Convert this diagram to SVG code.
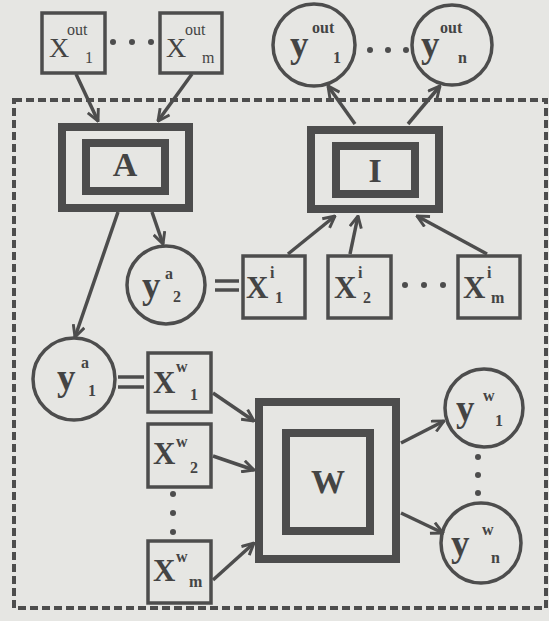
<svg xmlns="http://www.w3.org/2000/svg" width="549" height="621" viewBox="0 0 549 621">
<defs>
<style>
.bg{fill:#e6e6e3}
.box{fill:none;stroke:#4d4d4d;stroke-width:3.5}
.thick{fill:none;stroke:#4d4d4d;stroke-width:8}
.circ{fill:none;stroke:#4d4d4d;stroke-width:3.5}
.edge{fill:none;stroke:#4d4d4d;stroke-width:3.5}
.dot{fill:#4d4d4d}
.eq{stroke:#4d4d4d;stroke-width:3.5}
.big{font-family:"Liberation Serif","Times New Roman",serif;font-weight:bold;font-size:31px;fill:#444}
.ybig{font-family:"Liberation Serif","Times New Roman",serif;font-weight:bold;font-size:37px;fill:#444}
.bigr{font-family:"Liberation Serif","Times New Roman",serif;font-size:28px;fill:#444}
.sup{font-family:"Liberation Serif","Times New Roman",serif;font-weight:bold;font-size:16px;fill:#444}
.supr{font-family:"Liberation Serif","Times New Roman",serif;font-size:16px;fill:#444}
.lbl{font-family:"Liberation Serif","Times New Roman",serif;font-weight:bold;font-size:34px;fill:#444;text-anchor:middle}
</style>
<marker id="ah" viewBox="0 0 12 12" refX="11" refY="6" markerWidth="14" markerHeight="14" markerUnits="userSpaceOnUse" orient="auto">
<path d="M1,1 L11,6 L1,11" fill="none" stroke="#4d4d4d" stroke-width="2.5"/>
</marker>
</defs>
<rect class="bg" x="0" y="0" width="549" height="621"/>
<rect x="14" y="100" width="532" height="508" fill="none" stroke="#4d4d4d" stroke-width="4" stroke-dasharray="8 4"/>

<g id="connectors">
<line class="edge" x1="76" y1="74" x2="98" y2="121" marker-end="url(#ah)"/>
<line class="edge" x1="192" y1="74" x2="158" y2="121" marker-end="url(#ah)"/>
<line class="edge" x1="355" y1="124" x2="328" y2="86" marker-end="url(#ah)"/>
<line class="edge" x1="408" y1="124" x2="440" y2="86" marker-end="url(#ah)"/>
<line class="edge" x1="152" y1="212" x2="163" y2="244" marker-end="url(#ah)"/>
<line class="edge" x1="118" y1="212" x2="75" y2="337" marker-end="url(#ah)"/>
<line class="edge" x1="288" y1="254" x2="335" y2="216" marker-end="url(#ah)"/>
<line class="edge" x1="350" y1="254" x2="358" y2="216" marker-end="url(#ah)"/>
<line class="edge" x1="487" y1="254" x2="417" y2="216" marker-end="url(#ah)"/>
<line class="edge" x1="213" y1="393" x2="254" y2="421" marker-end="url(#ah)"/>
<line class="edge" x1="213" y1="456" x2="254" y2="470" marker-end="url(#ah)"/>
<line class="edge" x1="213" y1="580" x2="254" y2="543" marker-end="url(#ah)"/>
<line class="edge" x1="401" y1="443" x2="444" y2="421" marker-end="url(#ah)"/>
<line class="edge" x1="401" y1="513" x2="443" y2="533" marker-end="url(#ah)"/>
</g>

<g id="xout1">
<rect class="box" x="42" y="13" width="63" height="60"/>
<text class="bigr" x="49" y="57">X</text><text class="supr" x="67" y="35">out</text><text class="supr" x="85" y="63">1</text>
</g>
<g id="xoutm">
<rect class="box" x="160" y="13" width="62" height="60"/>
<text class="bigr" x="166" y="57">X</text><text class="supr" x="185" y="35">out</text><text class="supr" x="202" y="63">m</text>
</g>
<g id="dots-xout">
<circle class="dot" cx="113" cy="42" r="3"/><circle class="dot" cx="132" cy="42" r="3"/><circle class="dot" cx="151" cy="42" r="3"/>
</g>

<g id="yout1">
<circle class="circ" cx="314" cy="45" r="41"/>
<text class="ybig" x="290" y="57">y</text><text class="sup" x="312" y="33">out</text><text class="sup" x="333" y="63">1</text>
</g>
<g id="youtn">
<circle class="circ" cx="452" cy="45" r="40"/>
<text class="ybig" x="421" y="57">y</text><text class="sup" x="440" y="33">out</text><text class="sup" x="458" y="63">n</text>
</g>
<g id="dots-yout">
<circle class="dot" cx="370" cy="50" r="3"/><circle class="dot" cx="388" cy="50" r="3"/><circle class="dot" cx="406" cy="50" r="3"/>
</g>

<g id="A">
<rect class="thick" x="62" y="127" width="127" height="81"/>
<rect class="thick" x="86" y="143" width="79" height="48"/>
<text class="lbl" x="125" y="176">A</text>
</g>
<g id="I">
<rect class="thick" x="311" y="130" width="128" height="79"/>
<rect class="thick" x="336" y="146" width="79" height="48"/>
<text class="lbl" x="375" y="182">I</text>
</g>
<g id="W">
<rect class="thick" x="259" y="402" width="137" height="157"/>
<rect class="thick" x="286" y="433" width="84" height="98"/>
<text class="lbl" x="328" y="493">W</text>
</g>

<g id="ya2">
<circle class="circ" cx="166" cy="285" r="39"/>
<text class="ybig" x="142" y="298">y</text><text class="sup" x="165" y="279">a</text><text class="sup" x="173" y="302">2</text>
</g>
<g id="eq1"><line class="eq" x1="215" y1="281" x2="239" y2="281"/><line class="eq" x1="215" y1="290" x2="239" y2="290"/></g>
<g id="xi1">
<rect class="box" x="243" y="256" width="62" height="62"/>
<text class="big" x="246" y="298">X</text><text class="sup" x="270" y="278">i</text><text class="sup" x="275" y="303">1</text>
</g>
<g id="xi2">
<rect class="box" x="328" y="256" width="63" height="62"/>
<text class="big" x="334" y="298">X</text><text class="sup" x="358" y="278">i</text><text class="sup" x="363" y="303">2</text>
</g>
<g id="dots-xi">
<circle class="dot" cx="405" cy="285" r="3"/><circle class="dot" cx="424" cy="285" r="3"/><circle class="dot" cx="443" cy="285" r="3"/>
</g>
<g id="xim">
<rect class="box" x="458" y="256" width="62" height="62"/>
<text class="big" x="463" y="298">X</text><text class="sup" x="487" y="278">i</text><text class="sup" x="491" y="303">m</text>
</g>

<g id="ya1">
<circle class="circ" cx="74" cy="379" r="41"/>
<text class="ybig" x="57" y="390">y</text><text class="sup" x="81" y="368">a</text><text class="sup" x="88" y="396">1</text>
</g>
<g id="eq2"><line class="eq" x1="118" y1="377" x2="144" y2="377"/><line class="eq" x1="118" y1="387" x2="144" y2="387"/></g>
<g id="xw1">
<rect class="box" x="148" y="353" width="63" height="59"/>
<text class="big" x="153" y="393">X</text><text class="sup" x="176" y="372">w</text><text class="sup" x="190" y="400">1</text>
</g>
<g id="xw2">
<rect class="box" x="148" y="424" width="63" height="63"/>
<text class="big" x="153" y="464">X</text><text class="sup" x="176" y="447">w</text><text class="sup" x="190" y="473">2</text>
</g>
<g id="dots-xw">
<circle class="dot" cx="173" cy="494" r="3"/><circle class="dot" cx="173" cy="513" r="3"/><circle class="dot" cx="173" cy="532" r="3"/>
</g>
<g id="xwm">
<rect class="box" x="148" y="541" width="63" height="62"/>
<text class="big" x="153" y="581">X</text><text class="sup" x="176" y="562">w</text><text class="sup" x="189" y="587">m</text>
</g>

<g id="yw1">
<circle class="circ" cx="484" cy="408" r="39"/>
<text class="ybig" x="456" y="421">y</text><text class="sup" x="483" y="401">w</text><text class="sup" x="495" y="426">1</text>
</g>
<g id="dots-yw">
<circle class="dot" cx="478" cy="457" r="3"/><circle class="dot" cx="478" cy="475" r="3"/><circle class="dot" cx="478" cy="493" r="3"/>
</g>
<g id="ywn">
<circle class="circ" cx="481" cy="543" r="40"/>
<text class="ybig" x="451" y="556">y</text><text class="sup" x="482" y="535">w</text><text class="sup" x="491" y="563">n</text>
</g>
</svg>
